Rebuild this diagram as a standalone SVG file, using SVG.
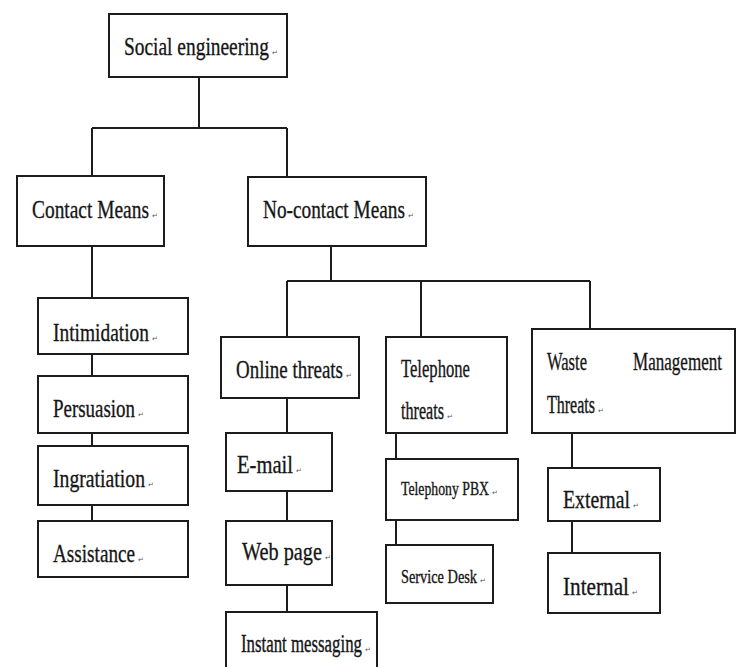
<svg xmlns="http://www.w3.org/2000/svg" width="741" height="667" viewBox="0 0 741 667">
<style>
.box{fill:#fff;stroke:#1c1c1c;stroke-width:2}
.lnk{fill:none;stroke:#1c1c1c;stroke-width:2}
.t{font-family:"Liberation Serif","Times New Roman",serif;font-size:19.5px;fill:#161616;stroke:#161616;stroke-width:0.25}
.n{font-size:16.2px}
.s{font-family:"Liberation Serif","Times New Roman",serif;font-size:13.5px;fill:#161616;stroke:#161616;stroke-width:0.25}
.m{font-family:"DejaVu Sans",sans-serif;font-size:7px;fill:#555}
</style>
<rect width="741" height="667" fill="#fff"/>
<g id="connectors">
<path class="lnk" d="M199,77V128M92,128H287M92,128V176M287,128V177M92,246V298M92,354V376M92,433V446M92,505V521M331,246V281M287,281H590M287,281V337M421,281V337M590,281V329M287,398V433M287,491V521M287,585V612M396,433V459M396,520V545M572,433V468M572,521V553"/>
</g>
<g id="social-engineering">
<rect class="box" x="109" y="14" width="178" height="63"/>
<text class="t" transform="translate(124,55) scale(1,1.33)" textLength="145" lengthAdjust="spacingAndGlyphs">Social engineering</text><text class="m" x="272" y="55">↵</text>
</g>
<g id="contact-means">
<rect class="box" x="17" y="176" width="147" height="70"/>
<text class="t" transform="translate(32,218) scale(1,1.33)" textLength="117" lengthAdjust="spacingAndGlyphs">Contact Means</text><text class="m" x="152" y="218">↵</text>
</g>
<g id="no-contact-means">
<rect class="box" x="248" y="177" width="178" height="69"/>
<text class="t" transform="translate(263,218) scale(1,1.33)" textLength="142" lengthAdjust="spacingAndGlyphs">No-contact Means</text><text class="m" x="408" y="218">↵</text>
</g>
<g id="intimidation">
<rect class="box" x="38" y="298" width="150" height="56"/>
<text class="t" transform="translate(53,341) scale(1,1.33)" textLength="96" lengthAdjust="spacingAndGlyphs">Intimidation</text><text class="m" x="152" y="341">↵</text>
</g>
<g id="persuasion">
<rect class="box" x="38" y="376" width="150" height="57"/>
<text class="t" transform="translate(53,417) scale(1,1.33)" textLength="82" lengthAdjust="spacingAndGlyphs">Persuasion</text><text class="m" x="138" y="417">↵</text>
</g>
<g id="ingratiation">
<rect class="box" x="38" y="446" width="150" height="59"/>
<text class="t" transform="translate(53,487) scale(1,1.33)" textLength="92" lengthAdjust="spacingAndGlyphs">Ingratiation</text><text class="m" x="148" y="487">↵</text>
</g>
<g id="assistance">
<rect class="box" x="38" y="521" width="150" height="56"/>
<text class="t" transform="translate(53,562) scale(1,1.33)" textLength="82" lengthAdjust="spacingAndGlyphs">Assistance</text><text class="m" x="138" y="562">↵</text>
</g>
<g id="online-threats">
<rect class="box" x="221" y="337" width="138" height="61"/>
<text class="t" transform="translate(236,378) scale(1,1.33)" textLength="107" lengthAdjust="spacingAndGlyphs">Online threats</text><text class="m" x="346" y="378">↵</text>
</g>
<g id="email">
<rect class="box" x="226" y="433" width="106" height="58"/>
<text class="t" transform="translate(237,473) scale(1,1.33)" textLength="56" lengthAdjust="spacingAndGlyphs">E-mail</text><text class="m" x="296" y="473">↵</text>
</g>
<g id="web-page">
<rect class="box" x="226" y="521" width="106" height="64"/>
<text class="t" transform="translate(242,560) scale(1,1.33)" textLength="80" lengthAdjust="spacingAndGlyphs">Web page</text><text class="m" x="325" y="560">↵</text>
</g>
<g id="instant-messaging">
<rect class="box" x="226" y="612" width="151" height="70"/>
<text class="t n" transform="translate(241,652) scale(1,1.6)" textLength="121" lengthAdjust="spacingAndGlyphs">Instant messaging</text><text class="m" x="365" y="652">↵</text>
</g>
<g id="telephone-threats">
<rect class="box" x="386" y="337" width="121" height="96"/>
<text class="t" transform="translate(401,377) scale(1,1.33)" textLength="69" lengthAdjust="spacingAndGlyphs">Telephone</text>
<text class="t n" transform="translate(401,419) scale(1,1.6)" textLength="43" lengthAdjust="spacingAndGlyphs">threats</text><text class="m" x="447" y="419">↵</text>
</g>
<g id="telephony-pbx">
<rect class="box" x="386" y="459" width="132" height="61"/>
<text class="s" transform="translate(401,495) scale(1,1.33)" textLength="88" lengthAdjust="spacingAndGlyphs">Telephony PBX</text><text class="m" x="492" y="495">↵</text>
</g>
<g id="service-desk">
<rect class="box" x="386" y="545" width="107" height="58"/>
<text class="s" transform="translate(401,583) scale(1,1.33)" textLength="76" lengthAdjust="spacingAndGlyphs">Service Desk</text><text class="m" x="480" y="583">↵</text>
</g>
<g id="waste-management-threats">
<rect class="box" x="532" y="329" width="203" height="104"/>
<text class="t" transform="translate(547,370) scale(1,1.33)" textLength="40" lengthAdjust="spacingAndGlyphs">Waste</text>
<text class="t" transform="translate(633,370) scale(1,1.33)" textLength="89" lengthAdjust="spacingAndGlyphs">Management</text>
<text class="t n" transform="translate(547,413) scale(1,1.6)" textLength="48" lengthAdjust="spacingAndGlyphs">Threats</text><text class="m" x="598" y="413">↵</text>
</g>
<g id="external">
<rect class="box" x="548" y="468" width="112" height="53"/>
<text class="t" transform="translate(563,508) scale(1,1.33)" textLength="67" lengthAdjust="spacingAndGlyphs">External</text><text class="m" x="633" y="508">↵</text>
</g>
<g id="internal">
<rect class="box" x="548" y="553" width="112" height="60"/>
<text class="t" transform="translate(563,595) scale(1,1.33)" textLength="66" lengthAdjust="spacingAndGlyphs">Internal</text><text class="m" x="632" y="595">↵</text>
</g>
</svg>
